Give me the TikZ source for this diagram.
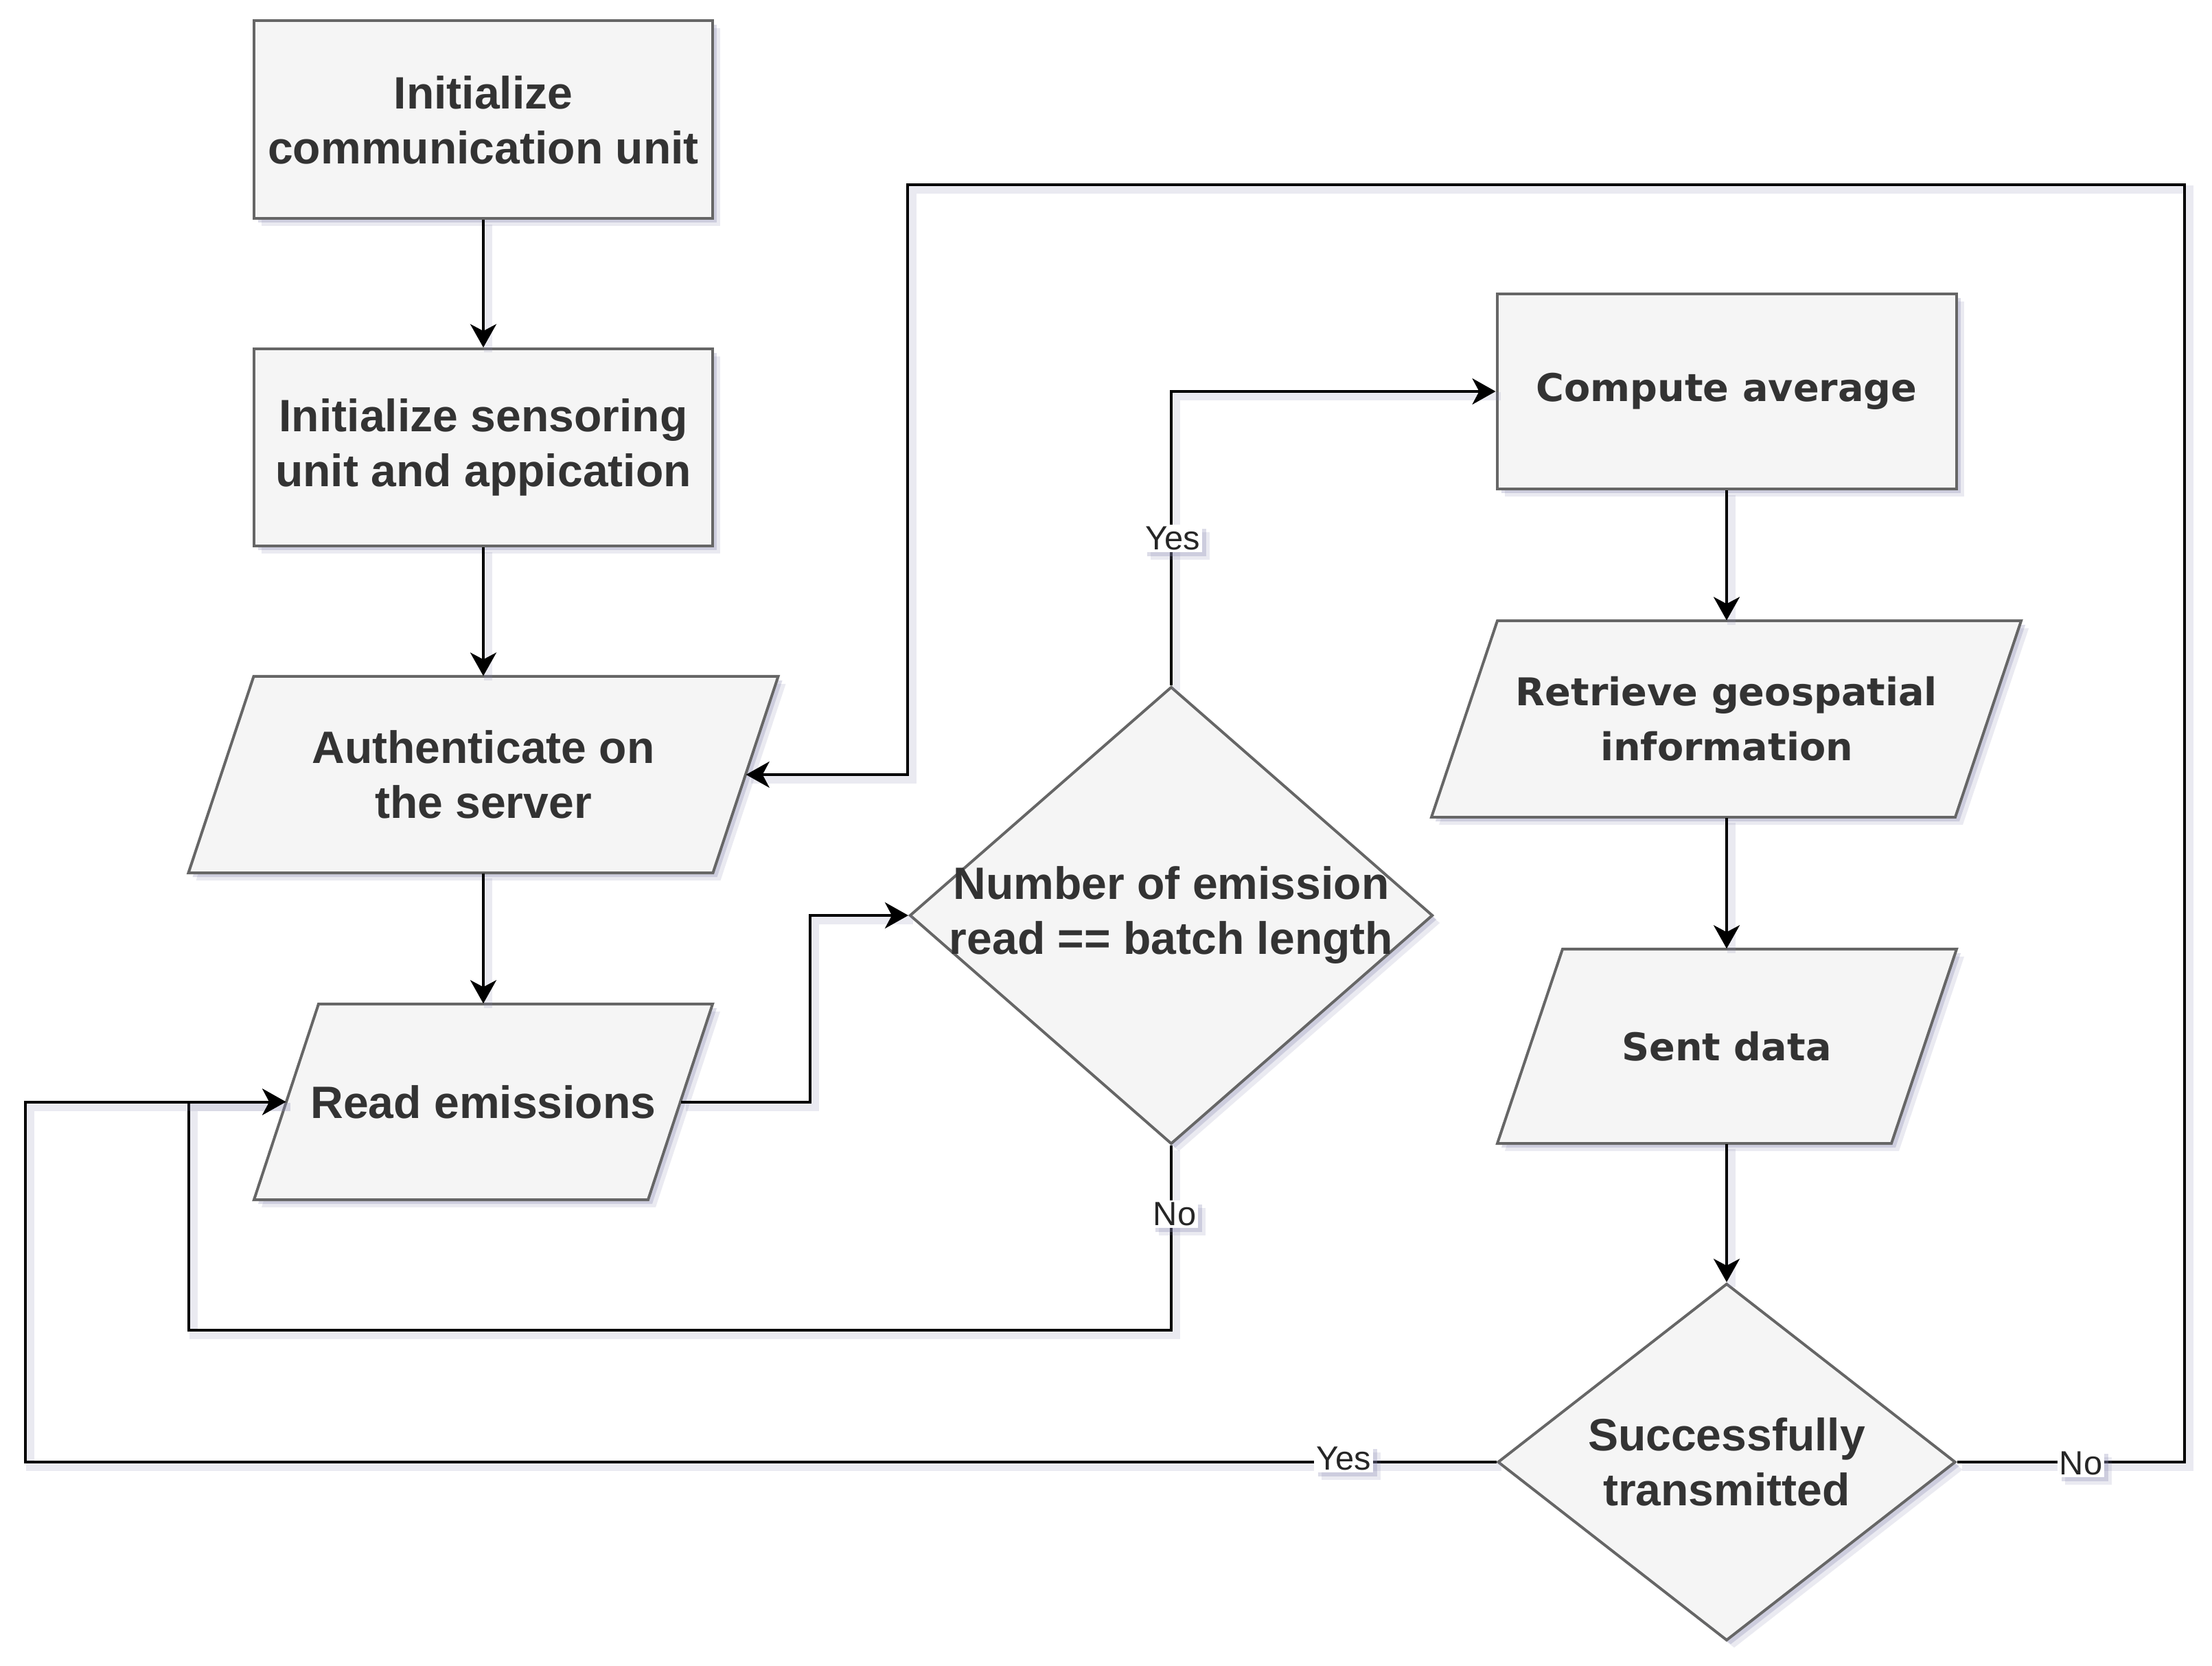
\documentclass[tikz,border=0pt]{standalone}
\usepackage{fontspec}
\setmainfont{Liberation Sans}
\newfontfamily\verdfont{DejaVu Sans}
\usetikzlibrary{shapes.geometric,arrows.meta,shadows,calc}
\definecolor{boxfill}{HTML}{F5F5F5}
\definecolor{boxline}{HTML}{666666}
\definecolor{txtc}{HTML}{333333}
\definecolor{shadc}{HTML}{8C8CB4}
\begin{document}
\begin{tikzpicture}[
 shd/.style={drop shadow={shadow xshift=0.11cm, shadow yshift=-0.11cm, fill=shadc, opacity=0.18},
             drop shadow={shadow xshift=0.06cm, shadow yshift=-0.06cm, fill=shadc, opacity=0.3}},
 shp/.style={fill=boxfill, draw=boxline, line width=0.04cm, shd},
 rbox/.style={shp, rectangle, inner sep=0},
 dia/.style={shp, diamond, inner sep=0},
 ptext/.style={rectangle, inner sep=0, text=txtc, align=center, font=\bfseries\fontsize{18.8pt}{22.76pt}\selectfont},
 vtext/.style={ptext, font=\verdfont\bfseries\fontsize{15.85pt}{22.76pt}\selectfont},
 arr/.style={draw=black, line width=0.04cm, -{Stealth[length=0.34cm,width=0.38cm,inset=0.1cm]},
             preaction={draw=shadc, draw opacity=0.18, line width=0.12cm, arrows=-, transform canvas={shift={(0.07cm,-0.07cm)}}}},
 lbl/.style={fill=white, text=black!85, inner sep=0.03cm, shd, font=\fontsize{13.9pt}{16pt}\selectfont}
]
\useasboundingbox[fill=white] (0,0) rectangle (32.22,-24.26);

% parallelogram outlines
\path[shp] (3.695,-9.85) -- (11.335,-9.85) -- (10.385,-12.71) -- (2.745,-12.71) -- cycle;
\path[shp] (4.64,-14.62) -- (10.38,-14.62) -- (9.44,-17.47) -- (3.70,-17.47) -- cycle;
\path[shp] (21.81,-9.04) -- (29.44,-9.04) -- (28.48,-11.90) -- (20.85,-11.90) -- cycle;
\path[shp] (22.76,-13.82) -- (28.50,-13.82) -- (27.55,-16.65) -- (21.81,-16.65) -- cycle;

% nodes
\node[rbox, ptext, minimum width=6.68cm, minimum height=2.88cm] (init1) at (7.04,-1.745) {Initialize\\communication unit};
\node[rbox, ptext, minimum width=6.68cm, minimum height=2.87cm] (init2) at (7.04,-6.515) {Initialize sensoring\\unit and appication};
\node[ptext, minimum width=7.64cm, minimum height=2.86cm] (auth) at (7.04,-11.28) {Authenticate on\\the server};
\node[ptext, minimum width=5.74cm, minimum height=2.85cm] (read) at (7.04,-16.045) {Read emissions};
\node[dia, minimum width=7.62cm, minimum height=6.66cm] (dec1) at (17.06,-13.33) {};
\node[ptext] at (dec1.center) {Number of emission\\read == batch length};
\node[rbox, vtext, minimum width=6.69cm, minimum height=2.84cm] (comp) at (25.15,-5.70) {Compute average};
\node[vtext, minimum width=7.63cm, minimum height=2.86cm] (retr) at (25.15,-10.47) {Retrieve geospatial\\information};
\node[vtext, minimum width=5.74cm, minimum height=2.83cm] (sent) at (25.15,-15.235) {Sent data};
\node[dia, minimum width=6.67cm, minimum height=5.20cm] (dec2) at (25.15,-21.29) {};
\node[ptext] at (dec2.center) {Successfully\\transmitted};

% connectors
\draw[arr] (init1.south) -- (init2.north);
\draw[arr] (init2.south) -- (auth.north);
\draw[arr] (auth.south) -- (read.north);
\draw[arr] (read.east) -- (11.80,-16.045) |- (dec1.west);
\draw[arr] (dec1.north) |- (comp.west);
\draw[arr] (dec1.south) -- (17.06,-19.37) -- (2.75,-19.37) |- (read.west);
\draw[arr] (comp.south) -- (retr.north);
\draw[arr] (retr.south) -- (sent.north);
\draw[arr] (sent.south) -- (dec2.north);
\draw[arr] (dec2.west) -- (0.37,-21.29) |- (read.west);
\draw[arr] (dec2.east) -- (31.82,-21.29) -- (31.82,-2.69) -- (13.22,-2.69) |- (auth.east);

% labels
\node[lbl] at (17.08,-7.84) {Yes};
\node[lbl] at (17.11,-17.68) {No};
\node[lbl] at (19.57,-21.24) {Yes};
\node[lbl] at (30.31,-21.31) {No};
\end{tikzpicture}
\end{document}
